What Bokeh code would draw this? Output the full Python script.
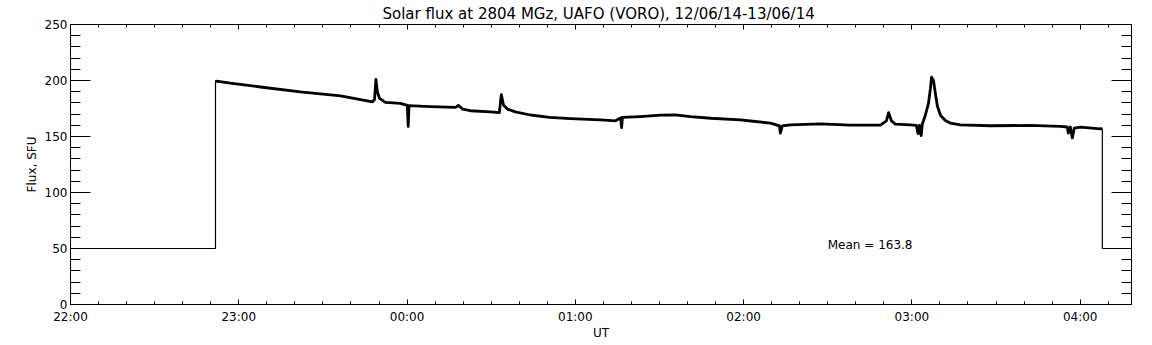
from bokeh.plotting import figure
from bokeh.models import FixedTicker, LinearAxis, Range1d, Label
from bokeh.embed import file_html
from bokeh.resources import INLINE

TITLE = "Solar flux at 2804 MGz, UAFO (VORO),  12/06/14-13/06/14"
X_LABEL = "UT"
Y_LABEL = "Flux, SFU"
MEAN_TEXT = "Mean =   163.8"

# time in minutes after 22:00 UT (12/06/14)
flux_minutes = [51.7, 52.0, 57.0, 67.7, 82.0, 96.3, 107.7, 108.4, 108.9, 109.4, 110.2, 112.3,
                117.6, 120.1, 120.4, 120.7, 128.3, 137.3, 138.3, 139.8, 142.6, 149.7, 152.9,
                153.6, 154.4, 155.8, 158.6, 164.0, 170.8, 178.3, 189.0, 194.3, 196.1, 196.5,
                196.8, 203.2, 210.3, 215.7, 221.0, 228.2, 238.9, 244.2, 249.6, 252.8, 253.1,
                253.8, 256.7, 267.4, 278.1, 288.8, 290.9, 291.7, 292.7, 294.1, 299.5, 301.6,
                302.2, 302.7, 303.3, 303.7, 304.8, 305.9, 306.6, 307.0, 307.7, 308.4, 309.1,
                310.2, 311.9, 313.7, 317.3, 328.0, 342.2, 352.9, 355.4, 355.8, 356.5, 357.2,
                357.9, 360.1, 367.2, 367.9]
flux_values = [199.0, 199.5, 197.6, 194.2, 189.8, 186.3, 181.0, 183.0, 201.0, 190.0, 184.0, 180.5,
               179.5, 177.8, 159.0, 177.5, 176.6, 176.0, 177.8, 174.5, 173.0, 171.9, 171.3,
               187.4, 178.0, 174.5, 172.0, 169.2, 167.0, 166.0, 164.8, 164.0, 166.5, 158.0,
               167.0, 167.8, 169.0, 169.3, 167.8, 166.3, 164.8, 163.4, 161.9, 159.5, 153.0,
               159.5, 160.4, 161.3, 160.2, 160.2, 164.0, 171.3, 164.0, 161.0, 160.4, 160.0,
               152.5, 160.0, 150.8, 161.0, 169.0, 179.5, 192.7, 203.0, 200.0, 188.0, 177.0,
               169.0, 164.3, 162.0, 160.4, 159.6, 159.9, 159.0, 158.5, 153.0, 158.5, 148.7,
               157.5, 158.4, 156.9, 157.0]

base_level = 50
x_start, x_end = 0.0, 378.3
y_start, y_end = 0, 250

x_tick_minutes = [0, 60, 120, 180, 240, 300, 360]
x_tick_labels = ["22:00", "23:00", "00:00", "01:00", "02:00", "03:00", "04:00"]
x_minor_minutes = [m for m in range(0, 379, 10)]
y_ticks = [0, 50, 100, 150, 200, 250]
y_minor = [v for v in range(0, 251, 10)]

mean_x, mean_y = 270.0, 53.0

FONT = "DejaVu Sans"
FS = "12px"

p = figure(width=1152, height=345, output_backend="svg", toolbar_location=None,
           x_range=Range1d(x_start, x_end), y_range=Range1d(y_start, y_end),
           x_axis_location=None, y_axis_location=None,
           min_border_left=70, min_border_right=21, min_border_top=20, min_border_bottom=41)
p.grid.visible = False
p.outline_line_color = None
p.background_fill_color = "white"
p.border_fill_color = "white"

p.title.text = TITLE
p.title.align = "center"
p.title.text_font = FONT
p.title.text_font_size = "15px"
p.title.text_font_style = "normal"
p.title.text_color = "black"
p.title.standoff = 4

xt = FixedTicker(ticks=x_tick_minutes, minor_ticks=x_minor_minutes)
yt = FixedTicker(ticks=y_ticks, minor_ticks=y_minor)
overrides = {t: l for t, l in zip(x_tick_minutes, x_tick_labels)}


def style(ax, labels, is_x):
    ax.axis_line_color = "black"
    ax.major_tick_line_color = "black"
    ax.minor_tick_line_color = "black"
    ax.major_tick_out = 0
    ax.minor_tick_out = 0
    if is_x:
        ax.major_tick_in = 5
        ax.minor_tick_in = 3
    else:
        ax.major_tick_in = 20
        ax.minor_tick_in = 10
    ax.major_label_text_font = FONT
    ax.major_label_text_color = "black"
    ax.axis_label_text_font = FONT
    ax.axis_label_text_font_size = FS
    ax.axis_label_text_font_style = "normal"
    ax.axis_label_text_color = "black"
    if labels:
        ax.major_label_text_font_size = FS
    else:
        ax.major_label_text_font_size = "0px"
        ax.major_label_standoff = 0


bottom = LinearAxis(ticker=xt, axis_label=X_LABEL, major_label_overrides=overrides)
style(bottom, True, True)
bottom.major_label_standoff = 5
bottom.axis_label_standoff = -1
top = LinearAxis(ticker=xt, major_label_overrides={t: "" for t in x_tick_minutes})
style(top, False, True)
left = LinearAxis(ticker=yt, axis_label=Y_LABEL)
style(left, True, False)
left.major_label_standoff = 3
left.axis_label_standoff = 3
right = LinearAxis(ticker=yt, major_label_overrides={t: "" for t in y_ticks})
style(right, False, False)

p.add_layout(bottom, "below")
p.add_layout(top, "above")
p.add_layout(left, "left")
p.add_layout(right, "right")

# baseline (no data) segments at the 50 level with the steps
p.line([x_start, flux_minutes[0], flux_minutes[0]], [base_level, base_level, flux_values[0]],
       line_color="black", line_width=1.2)
p.line([flux_minutes[-1], flux_minutes[-1], x_end], [flux_values[-1], base_level, base_level],
       line_color="black", line_width=1.2)
# flux trace
p.line(flux_minutes, flux_values, line_color="black", line_width=2.8, line_join="round")

p.add_layout(Label(x=mean_x, y=mean_y, text=MEAN_TEXT, text_font=FONT, text_font_size=FS,
                   text_color="black", text_baseline="middle", text_align="left"))

open("out.html", "w").write(file_html(p, INLINE))
